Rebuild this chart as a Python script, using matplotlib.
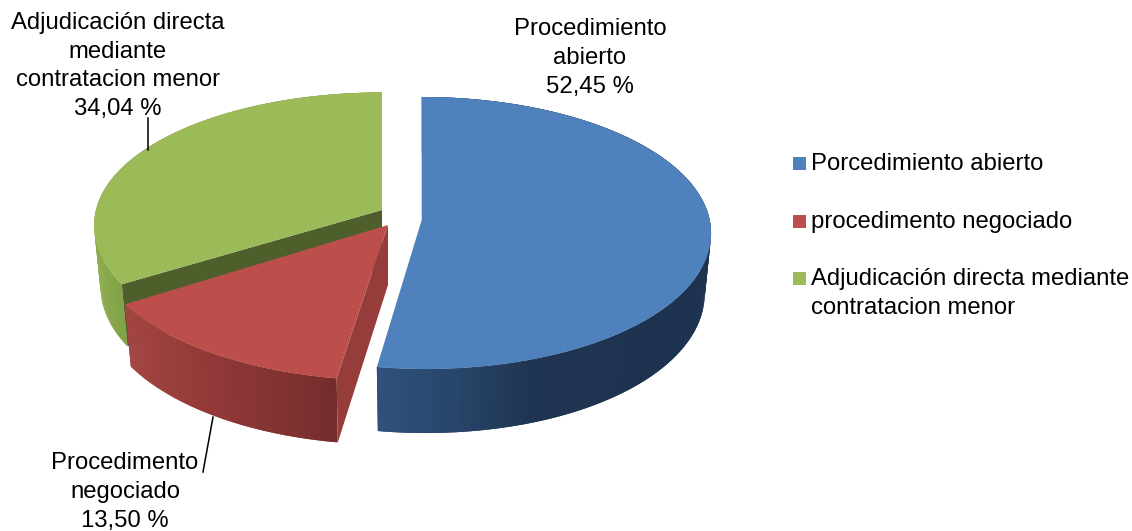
import numpy as np
import matplotlib
matplotlib.use("Agg")
import matplotlib.pyplot as plt
from matplotlib.colors import to_rgb
from matplotlib.patches import Polygon, Rectangle

plt.rcParams['font.family'] = ['Liberation Sans', 'DejaVu Sans']

# chart values
legend_names = ["Porcedimiento abierto", "procedimento negociado",
                "Adjudicación directa mediante\ncontratacion menor"]
label_names = ["Procedimiento\nabierto", "Procedimento\nnegociado",
               "Adjudicación directa\nmediante\ncontratacion menor"]
values = [52.45, 13.50, 34.04]

# look of each slice
top_colors = ["#4f81bd", "#bc4f4c", "#9bbb59"]
cut_colors = ["#1d3350", "#963c3b", "#4f5f2c"]
side_stops = [
    ([377, 460, 540, 710], ["#2f527d", "#28456a", "#1e3450", "#1d3350"]),
    ([125, 200, 336], ["#a34543", "#943a39", "#742d2c"]),
    ([94, 128], ["#8dac4f", "#80a045"]),
]
# apex on screen, half width, height scale, perspective, front shift
apex = [(421.7, 220), (388, 225), (382, 210)]
half_w = [288, 294, 286]
half_h = [134.8, 139, 130]
persp = [0.0956, 0.106, 0.106]
front_shift = [4, -1, -16]

FS = 17.2
LS = 1.39


def rim(i, ang):
    X, Y = np.sin(ang), np.cos(ang)
    w = 1 + persp[i] * Y
    x = apex[i][0] + half_w[i] * X / w + front_shift[i] * np.minimum(Y, 0) ** 2
    return x, apex[i][1] - half_h[i] * Y / w


def lower(i, x, y, ang):
    # bottom edge sits a bit further in and further down at the front
    d = 60 - 4 * np.cos(ang)
    return apex[i][0] + (x - apex[i][0]) * 0.978, y + d


fig = plt.figure(figsize=(11.32, 5.31), dpi=100)
ax = fig.add_axes([0, 0, 1, 1])
ax.set_xlim(0, 1132)
ax.set_ylim(531, 0)
ax.axis("off")

fracs = np.array(values) / 100
edges = np.concatenate([[0], np.cumsum(fracs)]) * 2 * np.pi
edges[-1] = 2 * np.pi

for i in [2, 1, 0]:
    a0, a1 = edges[i], edges[i + 1]
    angs = np.linspace(a0, a1, 200)
    xs, ys = rim(i, angs)
    xb, yb = lower(i, xs, ys, angs)
    stops_x, stops_c = side_stops[i]
    rgb = np.array([to_rgb(c) for c in stops_c])

    # outer wall, thin overlapping strips so no seams show
    for j in range(len(angs) - 1):
        e = min(j + 2, len(angs) - 1)
        col = [np.interp(xs[j], stops_x, rgb[:, k]) for k in range(3)]
        ax.add_patch(Polygon([(xs[j], ys[j]), (xs[e], ys[e]),
                              (xb[e], yb[e]), (xb[j], yb[j])],
                             closed=True, fc=col, ec="none"))

    # cut faces
    ax_, ay_ = apex[i]
    if i > 0:
        ax.add_patch(Polygon([(ax_, ay_), (xs[0], ys[0]), (xb[0], yb[0]), (ax_, ay_ + 60)],
                             closed=True, fc=cut_colors[i], ec="none"))

    # top surface
    ax.add_patch(Polygon(np.column_stack([np.r_[ax_, xs], np.r_[ay_, ys]]),
                         closed=True, fc=top_colors[i], ec="none"))

# data labels
label_pos = [(590, 58), (125, 492), (118, 66)]
for name, val, (lx, ly) in zip(label_names, values, label_pos):
    txt = name + "\n" + f"{val:.2f}".replace(".", ",") + " %"
    ax.text(lx, ly, txt, ha="center", va="center", fontsize=FS,
            linespacing=LS, color="#000000")

# leader lines
ax.plot([148, 148], [118, 150], color="black", lw=1.1)
ax.plot([213, 203], [417, 472], color="black", lw=1.1)

# legend
legend_y = [162, 220, 277]
for name, col, y in zip(legend_names, top_colors, legend_y):
    ax.add_patch(Rectangle((793, y - 5), 13, 13, fc=col, ec="none"))
    ax.text(811, y - 9, name, ha="left", va="top", fontsize=FS,
            linespacing=1.42, color="#000000")

fig.savefig("out.png", dpi=100)
